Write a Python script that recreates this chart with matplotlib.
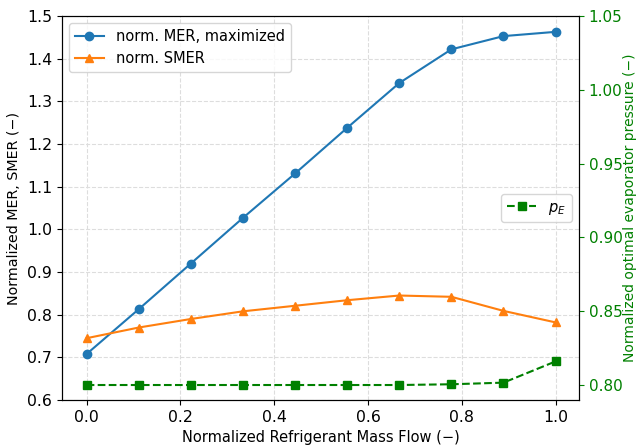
import numpy as np
import matplotlib
matplotlib.use("Agg")
import matplotlib.pyplot as plt

x = [0.0, 1/9, 2/9, 3/9, 4/9, 5/9, 6/9, 7/9, 8/9, 1.0]
mer = [0.708, 0.813, 0.920, 1.027, 1.131, 1.238, 1.343, 1.422, 1.453, 1.463]
smer = [0.745, 0.770, 0.790, 0.808, 0.821, 0.834, 0.845, 0.842, 0.809, 0.782]
pe = [0.800, 0.800, 0.800, 0.800, 0.800, 0.800, 0.800, 0.8005, 0.8016, 0.816]

plt.rcParams['font.family'] = ['DejaVu Sans']
plt.rcParams['font.size'] = 10.3

fig = plt.figure(figsize=(6.37, 4.46), dpi=100)
ax = fig.add_axes([0.097, 0.103, 0.812, 0.861])
ax.plot(x, mer, '-o', color='#1f77b4', label='norm. MER, maximized', markersize=6)
ax.plot(x, smer, '-^', color='#ff7f0e', label='norm. SMER', markersize=6)
ax.set_ylim(0.6, 1.5)
ax.set_xlim(-0.053, 1.05)
ax.set_xticks([0.0, 0.2, 0.4, 0.6, 0.8, 1.0])
ax.set_xlabel('Normalized Refrigerant Mass Flow (\u2212)', fontsize=10.5)
ax.set_ylabel('Normalized MER, SMER (\u2212)', fontsize=10.3)
ax.tick_params(labelsize=11.3)
ax.grid(True, linestyle='--', color='#dddddd', linewidth=0.8)
ax.legend(loc='upper left', fontsize=10.5)

ax2 = ax.twinx()
ax2.plot(x, pe, '--s', color='green', label='$p_E$', markersize=6)
ax2.set_ylim(0.7898, 1.05)
ax2.set_yticks([0.80, 0.85, 0.90, 0.95, 1.00, 1.05])
ax2.set_ylabel('Normalized optimal evaporator pressure (\u2212)', color='green',
               fontsize=10.0, labelpad=0.5)
ax2.tick_params(axis='y', colors='green', labelsize=11.0)
ax2.legend(loc='center right', fontsize=10.5)

fig.savefig('out.png', dpi=100)
